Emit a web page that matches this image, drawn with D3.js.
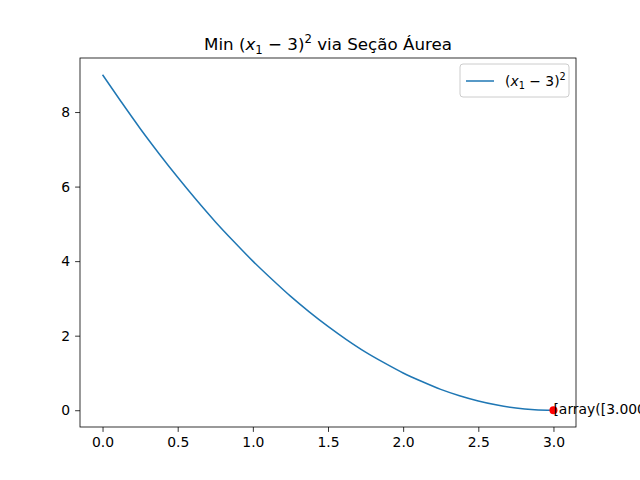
<!DOCTYPE html>
<html><head><meta charset="utf-8">
<script src="https://cdn.jsdelivr.net/npm/d3@7"></script>
<style>body{margin:0}svg{font-family:"DejaVu Sans",sans-serif}</style>
</head><body>
<svg id="c" width="640" height="480"></svg>
<script>
// values
var xs = [0, 0.125, 0.25, 0.375, 0.5, 0.625, 0.75, 0.875, 1, 1.125, 1.25, 1.375, 1.5, 1.625, 1.75, 1.875, 2, 2.125, 2.25, 2.375, 2.5, 2.625, 2.75, 2.875, 3];
var ys = [9, 8.27, 7.56, 6.89, 6.25, 5.64, 5.06, 4.52, 4, 3.52, 3.06, 2.64, 2.25, 1.89, 1.56, 1.27, 1, 0.77, 0.56, 0.39, 0.25, 0.14, 0.06, 0.016, 0];
var minPoint = [3.0, 0.0];
var xTicks = [0, 0.5, 1, 1.5, 2, 2.5, 3];
var yTicks = [0, 2, 4, 6, 8];

var svg = d3.select("#c");
var L = 80, R = 576, T = 58, B = 427;
var x = d3.scaleLinear().domain([-0.15, 3.15]).range([L, R]);
var y = d3.scaleLinear().domain([-0.45, 9.45]).range([B, T]);

svg.append("rect").attr("width", 640).attr("height", 480).attr("fill", "#fff");

var line = d3.line().x(function(d){return x(d[0]);}).y(function(d){return y(d[1]);}).curve(d3.curveMonotoneX);
svg.append("path").datum(d3.zip(xs, ys)).attr("d", line)
  .attr("fill", "none").attr("stroke", "#1f77b4").attr("stroke-width", 1.5);

svg.append("circle").attr("cx", x(minPoint[0])).attr("cy", y(minPoint[1])).attr("r", 4).attr("fill", "red");
svg.append("text").attr("x", x(minPoint[0])).attr("y", y(minPoint[1]) + 4)
  .attr("font-size", 13.9).text("[array([3.00000000])]");

var xa = svg.append("g").attr("transform", "translate(0," + B + ")")
  .call(d3.axisBottom(x).tickValues(xTicks).tickFormat(d3.format(".1f")).tickSizeOuter(0).tickSize(4.9).tickPadding(4.9));
var ya = svg.append("g").attr("transform", "translate(" + L + ",0)")
  .call(d3.axisLeft(y).tickValues(yTicks).tickFormat(d3.format("d")).tickSizeOuter(0).tickSize(4.9).tickPadding(4.9));
[xa, ya].forEach(function(a){
  a.selectAll("text").attr("font-size", 13.9).attr("font-family", "DejaVu Sans").attr("fill", "#000");
  a.select(".domain").remove();
  a.selectAll("line").attr("stroke", "#000").attr("stroke-width", 0.8);
});
svg.append("rect").attr("x", L).attr("y", T).attr("width", R - L).attr("height", B - T)
  .attr("fill", "none").attr("stroke", "#000").attr("stroke-width", 0.8);

function mathLabel(t, size) {
  t.append("tspan").text("(");
  t.append("tspan").attr("font-style", "italic").text("x");
  t.append("tspan").attr("font-size", size * 0.7).attr("dy", size * 0.25).text("1");
  t.append("tspan").attr("dy", -size * 0.25).text(" \u2212 3)");
  t.append("tspan").attr("font-size", size * 0.7).attr("dy", -size * 0.4).text("2");
}

var title = svg.append("text").attr("x", (L + R) / 2).attr("y", 50).attr("text-anchor", "middle").attr("font-size", 16.7);
title.append("tspan").text("Min ");
mathLabel(title, 16.7);
title.append("tspan").attr("dy", 16.7 * 0.4).text(" via Seção Áurea");

var lg = svg.append("g");
lg.append("rect").attr("x", 460).attr("y", 64).attr("width", 109).attr("height", 33).attr("rx", 3)
  .attr("fill", "#fff").attr("stroke", "#ccc");
lg.append("line").attr("x1", 466).attr("x2", 494).attr("y1", 81).attr("y2", 81)
  .attr("stroke", "#1f77b4").attr("stroke-width", 1.5);
var lt = lg.append("text").attr("x", 505).attr("y", 86).attr("font-size", 13.9);
mathLabel(lt, 13.9);
</script>
</body></html>
